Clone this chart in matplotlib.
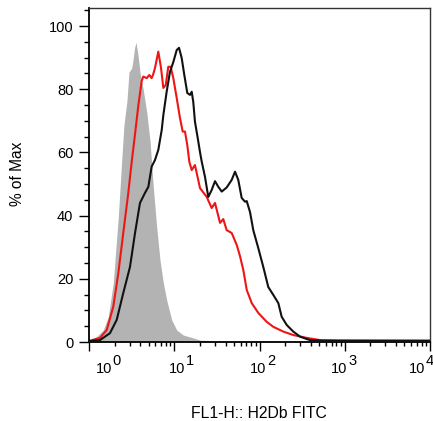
import numpy as np
import matplotlib
matplotlib.use("Agg")
import matplotlib.pyplot as plt
from matplotlib.transforms import ScaledTranslation, blended_transform_factory
from matplotlib.ticker import FixedLocator, NullFormatter

plt.rcParams['font.family'] = ['Liberation Sans', 'DejaVu Sans']

# log10 of FL1-H intensity, and % of Max
gray_log = [0.0, 0.09, 0.168, 0.226, 0.285, 0.344, 0.384, 0.41, 0.446, 0.469, 0.501, 0.516,
            0.534, 0.551, 0.575, 0.598, 0.633, 0.677, 0.716, 0.754, 0.794, 0.833, 0.872,
            0.911, 0.970, 1.029, 1.106, 1.223, 1.302, 1.537, 4.0]
gray_pct = [0.6, 1.7, 3.8, 8.0, 18.7, 39.7, 57.6, 68.7, 76.6, 85.4, 86.7, 89.2,
            93.0, 94.9, 90.8, 85.4, 80.4, 72.8, 63.6, 49.1, 36.4, 25.9, 18.7,
            13.3, 7.0, 3.8, 2.2, 1.3, 0.6, 0.3, 0.2]

red_log = [0.0, 0.129, 0.208, 0.285, 0.344, 0.402, 0.461, 0.501, 0.540, 0.578, 0.618, 0.637,
           0.677, 0.707, 0.735, 0.754, 0.774, 0.813, 0.845, 0.872, 0.900, 0.930, 0.958,
           0.989, 1.029, 1.067, 1.099, 1.126, 1.153, 1.177, 1.205, 1.243, 1.302, 1.381,
           1.439, 1.478, 1.537, 1.575, 1.615, 1.674, 1.733, 1.771, 1.810, 1.850, 1.909,
           1.986, 2.084, 2.162, 2.279, 2.396, 2.554, 2.710, 2.944, 4.0]
red_pct = [0.3, 1.3, 3.8, 11.2, 21.8, 34.5, 47.2, 57.0, 65.8, 74.7, 82.6, 84.0,
           83.5, 84.5, 83.5, 84.8, 86.7, 91.9, 86.7, 80.4, 81.3, 87.1, 87.1,
           83.5, 77.2, 70.9, 66.6, 66.6, 62.3, 57.0, 54.4, 56.0, 48.7, 45.9,
           42.4, 44.0, 37.7, 38.9, 35.4, 34.5, 30.7, 27.2, 22.8, 16.5, 12.3,
           9.2, 6.4, 4.8, 3.3, 2.2, 1.3, 0.6, 0.5, 0.5]

black_log = [0.0, 0.129, 0.246, 0.325, 0.402, 0.481, 0.540, 0.598, 0.657, 0.696, 0.735, 0.774,
             0.813, 0.853, 0.872, 0.911, 0.950, 0.989, 1.029, 1.056, 1.087, 1.118, 1.153,
             1.185, 1.205, 1.223, 1.243, 1.275, 1.302, 1.322, 1.361, 1.399, 1.439, 1.478,
             1.517, 1.557, 1.615, 1.674, 1.713, 1.751, 1.791, 1.830, 1.850, 1.889, 1.927,
             1.986, 2.045, 2.103, 2.162, 2.221, 2.260, 2.319, 2.396, 2.475, 2.592, 2.748, 4.0]
black_pct = [0.3, 0.6, 2.8, 7.0, 15.5, 23.8, 34.5, 44.0, 47.2, 49.1, 55.5, 57.6,
             60.8, 67.1, 71.8, 79.2, 85.5, 88.6, 92.4, 93.1, 89.9, 84.5, 78.8,
             78.2, 79.2, 76.0, 69.7, 64.6, 60.1, 57.1, 52.2, 45.9, 48.1, 50.9,
             49.1, 47.6, 48.9, 51.3, 53.9, 51.3, 45.6, 44.4, 44.6, 41.1, 35.4,
             29.7, 23.7, 17.4, 14.9, 12.3, 8.0, 5.4, 3.3, 1.7, 0.6, 0.4, 0.3]

x_tick_exps = [0, 1, 2, 3, 4]
x_label_shift_px = [23, 11, 7, 3, -5]   # where the "10" of each label ends, relative to its tick
y_ticks = [0, 20, 40, 60, 80, 100]
x_label = "FL1-H:: H2Db FITC"
y_label = "% of Max"

W, H = 433, 421
fig = plt.figure(figsize=(W / 100, H / 100), dpi=100)
ax = fig.add_axes([89 / W, 1 - 342 / H, (430 - 89) / W, (342 - 8) / H])

gx = 10 ** np.array(gray_log)
rx = 10 ** np.array(red_log)
bx = 10 ** np.array(black_log)

ax.fill_between(gx, 0, gray_pct, color='#b3b3b3', linewidth=0, zorder=1)
ax.plot(rx, red_pct, color='#f01515', lw=1.5, zorder=2)
ax.plot(bx, black_pct, color='#111111', lw=1.5, zorder=3)

ax.set_xscale('log')
ax.set_xlim(1, 1e4)
ax.set_ylim(0, 105.7)

ax.set_xticks([10.0 ** e for e in x_tick_exps])
ax.set_xticklabels([])
minors = [k * 10.0 ** e for e in range(0, 4) for k in range(2, 10)]
ax.xaxis.set_minor_locator(FixedLocator(minors))
ax.xaxis.set_minor_formatter(NullFormatter())

ax.set_yticks(y_ticks)
ax.set_yticks(np.arange(0, 106, 5), minor=True)

ax.tick_params(axis='x', which='major', length=6.5, width=1)
ax.tick_params(axis='x', which='minor', length=3, width=1)
ax.tick_params(axis='y', which='major', length=7.2, width=1, pad=4, labelsize=10.5)
ax.tick_params(axis='y', which='minor', length=3.6, width=1)

for s in ['left', 'bottom']:
    ax.spines[s].set_linewidth(1.3)
    ax.spines[s].set_color('black')
for s in ['top', 'right']:
    ax.spines[s].set_linewidth(1.0)
    ax.spines[s].set_color('#333333')

# x tick labels: "10" with a full-size raised exponent
trans = blended_transform_factory(ax.transData, fig.transFigure)
for e, dx in zip(x_tick_exps, x_label_shift_px):
    off = ScaledTranslation(dx / 100, 0, fig.dpi_scale_trans)
    ax.text(10.0 ** e, 1 - 373 / H, "10", ha='right', va='baseline', fontsize=10.5,
            transform=trans + off, clip_on=False)
    off2 = ScaledTranslation((dx + 0.5) / 100, 0, fig.dpi_scale_trans)
    ax.text(10.0 ** e, 1 - 365 / H, str(e), ha='left', va='baseline', fontsize=10.5,
            transform=trans + off2, clip_on=False)

fig.text(259 / W, 1 - 413 / H, x_label, ha='center', va='center', fontsize=11.3)
fig.text(17 / W, 1 - 174 / H, y_label, ha='center', va='center', rotation=90, fontsize=11.2)

fig.savefig('out.png', dpi=100)
